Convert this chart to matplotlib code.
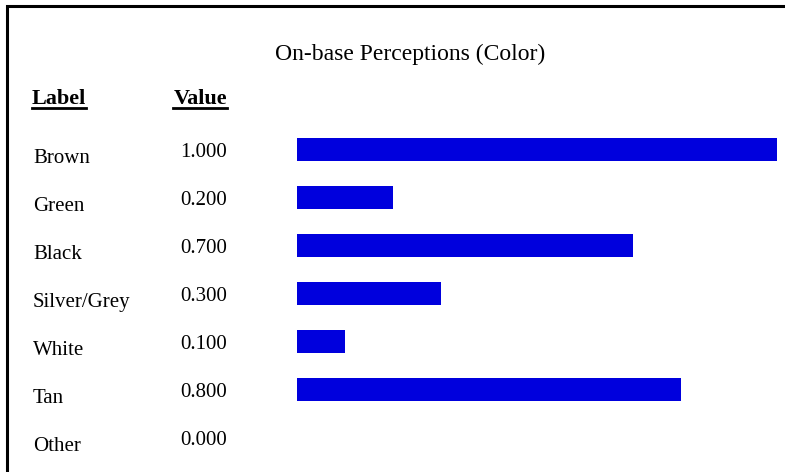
import matplotlib
matplotlib.use("Agg")
import matplotlib.pyplot as plt
from matplotlib.patches import Rectangle
from matplotlib.lines import Line2D
from matplotlib.transforms import blended_transform_factory, offset_copy

labels = ["Brown", "Green", "Black", "Silver/Grey", "White", "Tan", "Other"]
values = [1.0, 0.2, 0.7, 0.3, 0.1, 0.8, 0.0]
title = "On-base Perceptions (Color)"

W, H = 785, 472
plt.rcParams['font.family'] = ['Liberation Serif', 'DejaVu Serif']

fig = plt.figure(figsize=(W / 100, H / 100), dpi=100)

def fx(px):
    return px / W

def fy(py):
    return 1 - py / H

# frame (only left and top edges fall inside the picture)
fig.patches.append(Rectangle((fx(7), -0.1), 1.2, fy(6) + 0.1, transform=fig.transFigure,
                             fill=False, edgecolor='black', linewidth=2.2))

ax = fig.add_axes([fx(297), fy(461.7), 479.5 / W, 336 / H])
rows = list(range(len(labels)))
ax.barh(rows, values, height=0.475, color='#0000DD', edgecolor='none')
ax.set_xlim(0, 1)
ax.set_ylim(len(labels) - 0.5, -0.5)
ax.axis('off')

fig.text(fx(410), fy(60), title, ha='center', va='baseline', fontsize=17)

hdr1 = fig.text(fx(32), fy(104), "Label", ha='left', va='baseline', fontsize=16, fontweight='bold')
hdr2 = fig.text(fx(227), fy(104), "Value", ha='right', va='baseline', fontsize=16, fontweight='bold')

base = blended_transform_factory(fig.transFigure, ax.transData)
lab_tr = offset_copy(base, fig=fig, y=-13.5, units='dots')
val_tr = offset_copy(base, fig=fig, y=-7.5, units='dots')
for i, (lab, v) in enumerate(zip(labels, values)):
    fig.text(fx(33), i, lab, transform=lab_tr, ha='left', va='baseline', fontsize=15)
    fig.text(fx(227), i, f"{v:.3f}", transform=val_tr, ha='right', va='baseline', fontsize=15)

# underline the column headers
fig.canvas.draw()
r = fig.canvas.get_renderer()
for h in (hdr1, hdr2):
    bb = h.get_window_extent(renderer=r)
    y = (bb.y0 + 1) / H
    fig.add_artist(Line2D([bb.x0 / W, bb.x1 / W], [y, y], transform=fig.transFigure,
                          color='black', linewidth=2))

fig.savefig("out.png", dpi=100)
